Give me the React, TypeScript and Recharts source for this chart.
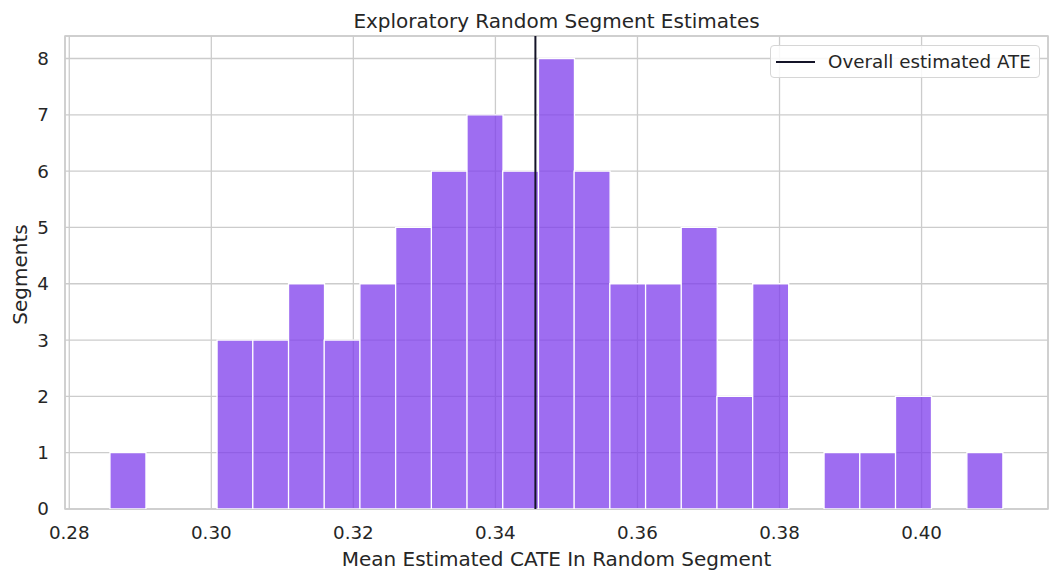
import React from "react";
import {
  ComposedChart,
  Bar,
  XAxis,
  YAxis,
  CartesianGrid,
  ReferenceLine,
  ReferenceArea,
} from "recharts";

// histogram bins (centre of each bin) and their counts
const binCenters = [
  0.28824, 0.29327, 0.2983, 0.30332, 0.30835, 0.31338, 0.3184, 0.32343,
  0.32846, 0.33349, 0.33851, 0.34354, 0.34857, 0.35359, 0.35862, 0.36365,
  0.36867, 0.3737, 0.37873, 0.38376, 0.38878, 0.39381, 0.39884, 0.40386,
  0.40889,
];
const segmentCounts = [
  1, 0, 0, 3, 3, 4, 3, 4, 5, 6, 7, 6, 8, 6, 4, 4, 5, 2, 4, 0, 1, 1, 2, 0, 1,
];
const xTicks = [0.28, 0.3, 0.32, 0.34, 0.36, 0.38, 0.4];
const yTicks = [0, 1, 2, 3, 4, 5, 6, 7, 8];
const overallAte = 0.34563;
const xDomain = [0.2794, 0.4178];
const yDomain = [0, 8.4];

const data = binCenters.map((center, i) => ({
  center,
  count: segmentCounts[i],
}));

const TEXT = "#262626";
const GRID = "#cccccc";
const FONT = "'DejaVu Sans', sans-serif";
const TICK_SIZE = 18.3;
const LABEL_SIZE = 20;

const YLabel = (props: any) => {
  const vb = props.viewBox || {};
  const x = vb.x + 12;
  const y = vb.y + vb.height / 2 + 2;
  return (
    <text
      x={x}
      y={y}
      transform={`rotate(-90 ${x} ${y})`}
      textAnchor="middle"
      dominantBaseline="central"
      fill={TEXT}
      fontSize={LABEL_SIZE}
      fontFamily={FONT}
    >
      Segments
    </text>
  );
};

export default function App() {
  return (
    <div
      style={{
        position: "relative",
        width: 1052,
        height: 572,
        fontFamily: FONT,
        color: TEXT,
      }}
    >
      <div
        style={{
          position: "absolute",
          left: 57,
          width: 983,
          top: 3,
          textAlign: "center",
          fontSize: LABEL_SIZE,
          lineHeight: "20px",
          whiteSpace: "nowrap",
        }}
      >
        Exploratory Random Segment Estimates
      </div>
      <ComposedChart
        width={1052}
        height={572}
        data={data}
        margin={{ top: 28, right: 12, bottom: 11, left: 0 }}
        barCategoryGap={0}
        barGap={0}
      >
        <CartesianGrid stroke={GRID} strokeWidth={1.3} />
        <XAxis
          dataKey="center"
          type="number"
          domain={xDomain}
          ticks={xTicks}
          allowDataOverflow
          axisLine={false}
          tickLine={false}
          tickSize={0}
          tickMargin={17}
          height={60}
          tick={{ fill: TEXT, fontSize: TICK_SIZE, fontFamily: FONT }}
          tickFormatter={(v: number) => v.toFixed(2)}
          label={{
            value: "Mean Estimated CATE In Random Segment",
            position: "insideBottom",
            offset: 3,
            fill: TEXT,
            fontSize: LABEL_SIZE,
            fontFamily: FONT,
          }}
        />
        <YAxis
          type="number"
          domain={yDomain}
          ticks={yTicks}
          allowDataOverflow
          width={57}
          axisLine={false}
          tickLine={false}
          tickSize={0}
          tickMargin={16}
          tick={{ fill: TEXT, fontSize: TICK_SIZE, fontFamily: FONT }}
          label={<YLabel />}
        />
        <ReferenceArea
          x1={xDomain[0]}
          x2={xDomain[1]}
          y1={yDomain[0]}
          y2={yDomain[1]}
          fill="none"
          stroke={GRID}
          strokeWidth={1.5}
          ifOverflow="visible"
        />
        <Bar
          dataKey="count"
          fill="#7d3cec"
          fillOpacity={0.75}
          stroke="#ffffff"
          strokeWidth={1.3}
          isAnimationActive={false}
        />
        <ReferenceLine
          x={overallAte}
          stroke="#141428"
          strokeWidth={2}
          ifOverflow="visible"
        />
      </ComposedChart>
      <div
        style={{
          position: "absolute",
          left: 762,
          top: 37,
          width: 268,
          height: 31,
          border: "1px solid #d6d6d6",
          borderRadius: 4,
          background: "rgba(255,255,255,0.85)",
          display: "flex",
          alignItems: "center",
          fontSize: TICK_SIZE,
          whiteSpace: "nowrap",
        }}
      >
        <div
          style={{
            marginLeft: 5,
            width: 39,
            height: 2,
            background: "#141428",
          }}
        />
        <span style={{ marginLeft: 13 }}>Overall estimated ATE</span>
      </div>
    </div>
  );
}
